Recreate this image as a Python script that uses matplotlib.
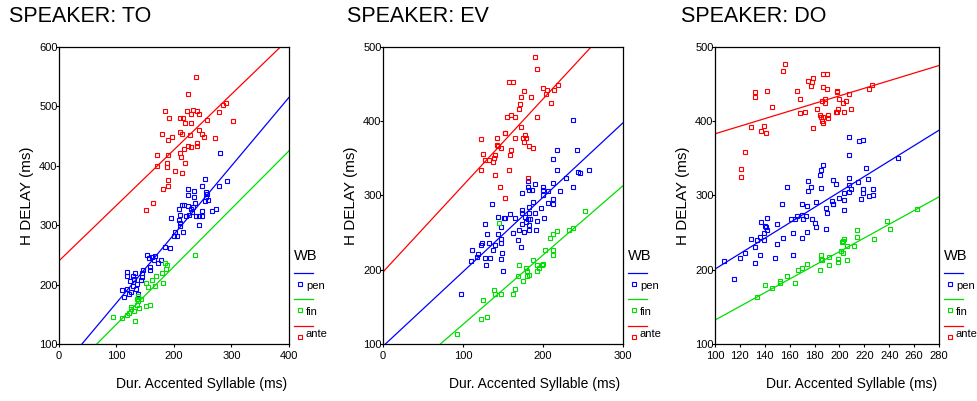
import numpy as np
import matplotlib
matplotlib.use('Agg')
import matplotlib.pyplot as plt

plt.rcParams['font.family'] = ['Liberation Sans', 'DejaVu Sans']

# Speaker TO
to_pen_x = [280, 254, 225, 234, 249, 279, 292, 225, 235, 255, 258, 255, 259, 254, 214, 218, 224, 229, 233, 237,
            231, 249, 266, 273, 209, 210, 221, 226, 239, 243, 248, 195, 209, 211, 210, 243, 202, 205, 200, 216,
            185, 193, 153, 161, 167, 157, 165, 177, 172, 159, 159, 119, 132, 146, 145, 128, 119, 131, 145, 143,
            124, 136, 128, 119, 134, 126, 122, 110, 113, 137]
to_pen_y = [421, 378, 361, 358, 366, 366, 374, 351, 347, 356, 353, 347, 343, 341, 334, 334, 333, 328, 331, 337,
            323, 324, 324, 328, 328, 317, 315, 317, 315, 315, 315, 312, 308, 303, 299, 300, 289, 282, 281, 289,
            264, 261, 249, 247, 248, 244, 241, 241, 237, 229, 225, 222, 219, 225, 219, 214, 215, 210, 212, 207,
            206, 201, 197, 193, 192, 188, 185, 191, 179, 185]
to_fin_x = [236, 185, 188, 179, 186, 168, 162, 152, 181, 154, 167, 138, 142, 136, 138, 126, 135, 139, 152, 158,
            126, 130, 122, 118, 109, 94, 132]
to_fin_y = [249, 236, 233, 219, 226, 215, 208, 202, 202, 196, 197, 180, 176, 175, 173, 163, 165, 160, 164, 165,
            159, 156, 152, 149, 143, 145, 139]
to_ante_x = [239, 224, 184, 223, 233, 240, 244, 230, 191, 210, 216, 220, 229, 258, 279, 286, 290, 303, 180, 196,
             210, 214, 227, 244, 248, 253, 272, 189, 225, 230, 240, 240, 217, 170, 189, 210, 213, 219, 170, 188,
             188, 201, 214, 189, 189, 181, 164, 152]
to_ante_y = [549, 521, 492, 492, 494, 493, 487, 487, 481, 480, 480, 472, 472, 477, 490, 503, 506, 476, 454, 449,
             457, 454, 452, 461, 454, 449, 447, 444, 433, 431, 438, 433, 429, 419, 418, 421, 415, 404, 399, 398,
             405, 392, 388, 376, 366, 361, 337, 326]

# Speaker EV
ev_pen_x = [238, 217, 242, 213, 217, 244, 246, 258, 229, 238, 190, 181, 181, 212, 221, 200, 206, 200, 200, 212,
            212, 206, 174, 183, 186, 187, 183, 182, 190, 197, 174, 174, 177, 181, 184, 179, 174, 182, 183, 193,
            201, 191, 176, 136, 144, 151, 159, 152, 165, 148, 128, 130, 144, 163, 170, 169, 173, 148, 148, 133,
            140, 137, 111, 110, 117, 119, 123, 124, 128, 134, 148, 149, 129, 150, 97]
ev_pen_y = [402, 361, 361, 349, 334, 331, 330, 334, 323, 311, 316, 320, 312, 317, 306, 301, 306, 312, 307, 295,
            289, 290, 303, 308, 307, 291, 285, 276, 277, 283, 280, 276, 271, 269, 269, 264, 261, 260, 253, 266,
            270, 254, 251, 289, 271, 270, 275, 270, 270, 258, 262, 248, 248, 250, 253, 240, 230, 242, 236, 236,
            233, 227, 227, 212, 217, 221, 233, 236, 216, 216, 215, 223, 207, 198, 167]
ev_fin_x = [253, 237, 232, 218, 212, 209, 213, 212, 203, 200, 199, 193, 193, 195, 145, 170, 187, 179, 180, 182,
            180, 169, 175, 165, 163, 139, 140, 148, 125, 130, 122, 93]
ev_fin_y = [279, 256, 254, 252, 248, 243, 227, 220, 227, 208, 207, 206, 198, 202, 263, 207, 213, 202, 198, 193,
            191, 191, 185, 174, 167, 173, 167, 167, 159, 137, 133, 114]
ev_ante_x = [190, 193, 157, 163, 176, 172, 185, 200, 205, 204, 214, 219, 210, 171, 170, 155, 160, 165, 192, 172,
             122, 143, 152, 153, 165, 175, 178, 179, 176, 183, 187, 143, 144, 148, 125, 140, 139, 127, 132, 137,
             160, 159, 123, 158, 140, 181, 146, 152]
ev_ante_y = [486, 471, 453, 453, 441, 432, 433, 445, 442, 437, 442, 449, 425, 423, 417, 406, 408, 406, 406, 392,
             376, 378, 384, 384, 378, 378, 382, 378, 372, 367, 364, 368, 366, 364, 356, 354, 350, 348, 348, 345,
             361, 354, 335, 334, 327, 323, 311, 297]

# Speaker DO
do_pen_x = [208, 216, 219, 247, 208, 187, 185, 184, 175, 221, 208, 223, 215, 195, 197, 185, 177, 175, 158, 208,
            208, 209, 219, 219, 227, 227, 224, 217, 204, 204, 200, 194, 195, 195, 189, 190, 204, 189, 181, 154,
            170, 174, 173, 166, 164, 161, 170, 171, 142, 137, 141, 142, 140, 139, 150, 178, 180, 181, 174, 163,
            170, 155, 136, 129, 134, 139, 150, 132, 136, 148, 163, 124, 120, 132, 107, 115]
do_pen_y = [379, 374, 375, 351, 355, 341, 334, 327, 320, 337, 324, 322, 318, 321, 316, 310, 311, 306, 312, 314,
            305, 309, 309, 304, 309, 301, 299, 295, 303, 294, 297, 293, 288, 289, 283, 277, 281, 255, 291, 289,
            288, 286, 273, 272, 268, 268, 274, 269, 270, 264, 257, 253, 259, 250, 261, 268, 263, 258, 251, 249,
            243, 243, 244, 241, 240, 240, 235, 231, 220, 216, 220, 222, 216, 209, 212, 188]
do_fin_x = [262, 238, 241, 228, 214, 214, 212, 206, 204, 203, 202, 201, 203, 206, 192, 199, 199, 185, 185, 186,
            184, 192, 174, 170, 167, 158, 164, 152, 152, 146, 140, 134]
do_fin_y = [282, 265, 255, 241, 254, 244, 232, 232, 242, 239, 237, 225, 223, 213, 217, 214, 211, 220, 214, 213,
            200, 207, 208, 202, 199, 191, 182, 185, 182, 176, 180, 163]
do_ante_x = [156, 155, 187, 190, 179, 178, 175, 177, 187, 190, 132, 132, 142, 166, 198, 198, 208, 226, 224, 168,
             188, 188, 186, 200, 205, 203, 209, 199, 198, 197, 204, 182, 184, 187, 185, 186, 187, 191, 191, 172,
             168, 146, 179, 129, 139, 137, 141, 124, 121, 121]
do_ante_y = [477, 468, 464, 464, 458, 453, 454, 447, 446, 444, 440, 433, 441, 441, 441, 439, 437, 449, 444, 430,
             430, 425, 427, 430, 427, 424, 416, 416, 412, 413, 412, 417, 409, 406, 406, 400, 398, 409, 404, 413,
             411, 419, 391, 392, 394, 387, 384, 359, 336, 325]

# fitted lines (intercept, slope)
to_fits = {'pen': (54, 1.153), 'fin': (36, 0.973), 'ante': (240, 0.935)}
ev_fits = {'pen': (97, 1.003), 'fin': (33, 0.934), 'ante': (197, 1.165)}
do_fits = {'pen': (97, 1.039), 'fin': (40, 0.922), 'ante': (332, 0.511)}

speakers = ['TO', 'EV', 'DO']
x_limits = [(0, 400), (0, 300), (100, 280)]
y_limits = [(100, 600), (100, 500), (100, 500)]
x_ticks = [[0, 100, 200, 300, 400], [0, 100, 200, 300], list(range(100, 281, 20))]
y_ticks = [[100, 200, 300, 400, 500, 600], [100, 200, 300, 400, 500], [100, 200, 300, 400, 500]]

data = [
    {'pen': (to_pen_x, to_pen_y), 'fin': (to_fin_x, to_fin_y), 'ante': (to_ante_x, to_ante_y)},
    {'pen': (ev_pen_x, ev_pen_y), 'fin': (ev_fin_x, ev_fin_y), 'ante': (ev_ante_x, ev_ante_y)},
    {'pen': (do_pen_x, do_pen_y), 'fin': (do_fin_x, do_fin_y), 'ante': (do_ante_x, do_ante_y)},
]
fits = [to_fits, ev_fits, do_fits]
groups = ['pen', 'fin', 'ante']
colors = {'pen': '#0000ff', 'fin': '#00dd00', 'ante': '#ff0000'}

W, H = 978, 401
fig = plt.figure(figsize=(W / 100, H / 100), dpi=100)

# axes boxes in pixels: left, right
boxes = [(59, 289), (383, 623), (715, 939)]
title_x = [9, 347, 681]
top, bottom = 47, 344

for i in range(3):
    l, r = boxes[i]
    ax = fig.add_axes([l / W, 1 - bottom / H, (r - l) / W, (bottom - top) / H])
    for g in groups:
        xs, ys = data[i][g]
        ax.plot(xs, ys, 's', ms=2.8, mfc='none', mec=colors[g], mew=0.8)
        b, m = fits[i][g]
        lx = np.array(x_limits[i])
        ax.plot(lx, b + m * lx, color=colors[g], lw=0.9)
    ax.set_xlim(x_limits[i])
    ax.set_ylim(y_limits[i])
    ax.set_xticks(x_ticks[i])
    ax.set_yticks(y_ticks[i])
    ax.tick_params(axis='y', length=2, pad=-1, labelsize=8)
    ax.tick_params(axis='x', length=2, pad=3, labelsize=8)
    for s in ax.spines.values():
        s.set_linewidth(0.9)
    ax.set_ylabel('H DELAY (ms)', fontsize=11, labelpad=4)
    ax.text(0.99, -0.135, 'Dur. Accented Syllable (ms)', transform=ax.transAxes,
            ha='right', va='center', fontsize=10)
    fig.text(title_x[i] / W, 1 - 17 / H, 'SPEAKER: ' + speakers[i], fontsize=15.5,
             ha='left', va='center')

    # legend drawn by hand to the right of the box
    lx0 = r + 5
    fig.text(lx0 / W, 1 - 256 / H, 'WB', fontsize=10.5, ha='left', va='center')
    rows = [(273, 284, 286), (299, 310, 312), (326, 337, 334)]
    for g, (yl, ym, yt) in zip(groups, rows):
        fig.add_artist(plt.Line2D([lx0 / W, (lx0 + 19) / W], [1 - yl / H, 1 - yl / H],
                                  color=colors[g], lw=0.9))
        fig.add_artist(plt.Line2D([(lx0 + 6) / W], [1 - ym / H], marker='s', ms=2.8,
                                  mfc='none', mec=colors[g], mew=0.8))
        fig.text((lx0 + 12) / W, 1 - yt / H, g, fontsize=8, ha='left', va='center')

fig.savefig('out.png', dpi=100)
